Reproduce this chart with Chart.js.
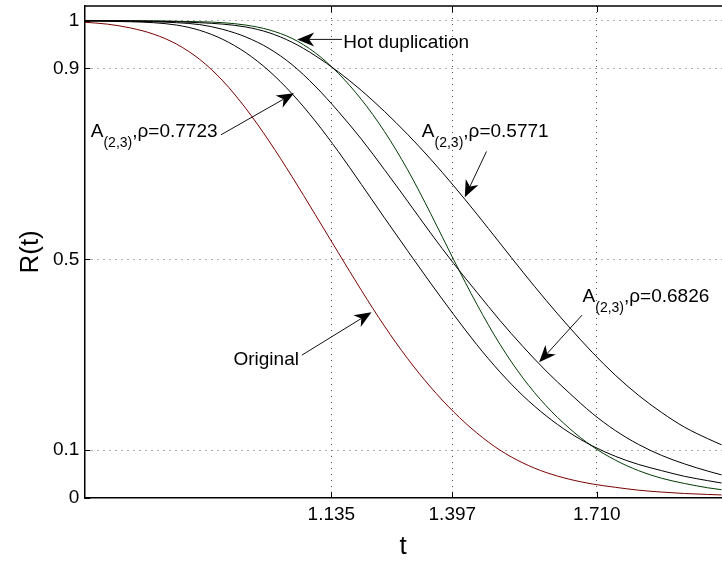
<!DOCTYPE html>
<html>
<head>
<meta charset="utf-8">
<script src="https://cdn.jsdelivr.net/npm/chart.js@4.4.0/dist/chart.umd.min.js"></script>
<style>
  html, body { margin: 0; padding: 0; background: #fff; }
</style>
</head>
<body>
<canvas id="myChart" width="722" height="562"></canvas>
<script>
// time axis samples (t) and reliability values R(t)
var tValues = [0.60, 0.65, 0.70, 0.75, 0.80, 0.85, 0.90, 0.95, 1.00, 1.05, 1.10, 1.15, 1.20, 1.25, 1.30,
               1.35, 1.40, 1.45, 1.50, 1.55, 1.60, 1.65, 1.70, 1.75, 1.80, 1.85, 1.90, 1.95, 1.98];

var original = [0.997, 0.993, 0.985, 0.972, 0.951, 0.919, 0.874, 0.816, 0.748, 0.673, 0.594, 0.514, 0.435, 0.360, 0.292,
                0.232, 0.180, 0.136, 0.100, 0.073, 0.053, 0.039, 0.029, 0.022, 0.016, 0.012, 0.009, 0.007, 0.006];

var hotDuplication = [1.000, 1.000, 1.000, 1.000, 0.999, 0.998, 0.996, 0.991, 0.981, 0.963, 0.933, 0.890, 0.835, 0.768, 0.688,
                      0.596, 0.499, 0.406, 0.322, 0.251, 0.193, 0.146, 0.108, 0.079, 0.057, 0.041, 0.030, 0.021, 0.017];

var rho7723 = [1.000, 0.999, 0.998, 0.996, 0.991, 0.980, 0.961, 0.933, 0.895, 0.847, 0.790, 0.726, 0.657, 0.587, 0.518,
               0.450, 0.384, 0.321, 0.264, 0.214, 0.172, 0.137, 0.109, 0.087, 0.070, 0.057, 0.045, 0.036, 0.031];

var rho6826 = [1.000, 1.000, 0.999, 0.998, 0.996, 0.992, 0.982, 0.966, 0.942, 0.908, 0.863, 0.810, 0.752, 0.688, 0.622,
               0.555, 0.491, 0.431, 0.372, 0.317, 0.266, 0.220, 0.177, 0.141, 0.112, 0.089, 0.071, 0.056, 0.048];

var rho5771 = [1.000, 1.000, 1.000, 0.999, 0.998, 0.996, 0.993, 0.987, 0.975, 0.955, 0.927, 0.893, 0.854, 0.810, 0.762,
               0.710, 0.654, 0.595, 0.534, 0.473, 0.414, 0.358, 0.305, 0.257, 0.215, 0.179, 0.148, 0.124, 0.111];

var xTicks = [1.135, 1.397, 1.710];
var yTicks = [0, 0.1, 0.5, 0.9, 1];
var yTickLabels = ['0', '0.1', '0.5', '0.9', '1'];

var FONT = '"Liberation Sans", Arial, sans-serif';

// text callouts: label anchor (t, R at baseline-left), arrow tail and tip in data units
var callouts = [
  { parts: [['Hot duplication', 0]], at: [1.161, 0.942], tail: [1.158, 0.961], tip: [1.061, 0.961] },
  { parts: [['A', 0], ['(2,3)', 1], [',\u03c1=0.7723', 0]], at: [0.614, 0.756], tail: [0.896, 0.761], tip: [1.054, 0.848] },
  { parts: [['A', 0], ['(2,3)', 1], [',\u03c1=0.5771', 0]], at: [1.331, 0.757], tail: [1.471, 0.726], tip: [1.424, 0.630] },
  { parts: [['A', 0], ['(2,3)', 1], [',\u03c1=0.6826', 0]], at: [1.679, 0.411], tail: [1.678, 0.383], tip: [1.585, 0.284] },
  { parts: [['Original', 0]], at: [0.923, 0.278], tail: [1.071, 0.299], tip: [1.222, 0.389] }
];

function toPoints(values) {
  return tValues.map((t, i) => ({ x: t, y: values[i] }));
}

function line(label, values, color) {
  return {
    label: label,
    data: toPoints(values),
    borderColor: color,
    borderWidth: 1,
    pointRadius: 0,
    fill: false,
    cubicInterpolationMode: 'monotone'
  };
}

function drawArrow(ctx, x1, y1, x2, y2) {
  var a = Math.atan2(y2 - y1, x2 - x1);
  var c = Math.cos(a), s = Math.sin(a);
  var len = 17, half = 7, notch = 12;
  ctx.beginPath();
  ctx.moveTo(x1, y1);
  ctx.lineTo(x2 - c * notch, y2 - s * notch);
  ctx.stroke();
  var bx = x2 - c * len, by = y2 - s * len;
  ctx.beginPath();
  ctx.moveTo(x2, y2);
  ctx.lineTo(bx + s * half, by - c * half);
  ctx.lineTo(x2 - c * notch, y2 - s * notch);
  ctx.lineTo(bx - s * half, by + c * half);
  ctx.closePath();
  ctx.fill();
}

var framePlugin = {
  id: 'frame',
  afterDraw: (chart) => {
    var ctx = chart.ctx, area = chart.chartArea;
    var xs = chart.scales.x, ys = chart.scales.y;
    ctx.save();
    ctx.strokeStyle = '#000';
    ctx.lineWidth = 1.5;
    ctx.beginPath();
    ctx.moveTo(area.left, area.top);
    ctx.lineTo(area.right, area.top);
    ctx.stroke();
    // inward tick marks
    ctx.lineWidth = 1;
    ctx.beginPath();
    xTicks.forEach(v => {
      var px = Math.round(xs.getPixelForValue(v)) + 0.5;
      ctx.moveTo(px, area.bottom); ctx.lineTo(px, area.bottom - 6);
      ctx.moveTo(px, area.top); ctx.lineTo(px, area.top + 6);
    });
    yTicks.forEach(v => {
      var py = Math.round(ys.getPixelForValue(v)) + 0.5;
      ctx.moveTo(area.left, py); ctx.lineTo(area.left + 6, py);
    });
    ctx.stroke();

    // callouts
    ctx.fillStyle = '#000';
    ctx.strokeStyle = '#111';
    ctx.textBaseline = 'alphabetic';
    ctx.textAlign = 'left';
    callouts.forEach(c => {
      var x = xs.getPixelForValue(c.at[0]);
      var y = ys.getPixelForValue(c.at[1]);
      c.parts.forEach(p => {
        ctx.font = (p[1] ? '14px ' : '19px ') + FONT;
        ctx.fillText(p[0], x, y + (p[1] ? 10 : 0));
        x += ctx.measureText(p[0]).width;
      });
      drawArrow(ctx,
        xs.getPixelForValue(c.tail[0]), ys.getPixelForValue(c.tail[1]),
        xs.getPixelForValue(c.tip[0]), ys.getPixelForValue(c.tip[1]));
    });
    ctx.restore();
  }
};

new Chart(document.getElementById('myChart').getContext('2d'), {
  type: 'line',
  data: {
    datasets: [
      line('Original', original, '#7a0000'),
      line('A(2,3), rho=0.7723', rho7723, '#000'),
      line('A(2,3), rho=0.6826', rho6826, '#000'),
      line('A(2,3), rho=0.5771', rho5771, '#000'),
      line('Hot duplication', hotDuplication, '#003c00')
    ]
  },
  options: {
    responsive: false,
    animation: false,
    devicePixelRatio: 1,
    layout: { padding: { top: 6, right: 0, left: 0, bottom: 0 } },
    plugins: { legend: { display: false }, tooltip: { enabled: false } },
    scales: {
      x: {
        type: 'linear',
        min: 0.6,
        max: 1.981,
        afterFit: (s) => { s.height = 64.2; s.paddingLeft = 0; s.paddingRight = 0; },
        afterBuildTicks: (s) => { s.ticks = xTicks.map(v => ({ value: v })); },
        grid: { color: '#555', lineWidth: 1, drawTicks: false },
        border: { display: true, color: '#000', width: 1.5, dash: [1, 5] },
        ticks: {
          padding: 6,
          color: '#000',
          font: { family: FONT, size: 19 },
          maxRotation: 0,
          callback: (v) => v.toFixed(3)
        },
        title: { display: true, text: 't', color: '#000', font: { family: FONT, size: 26 }, padding: { top: 0, bottom: 0 } }
      },
      y: {
        min: 0,
        max: 1.031,
        afterFit: (s) => { s.width = 84.3; s.paddingTop = 0; s.paddingBottom = 0; },
        afterBuildTicks: (s) => { s.ticks = yTicks.map(v => ({ value: v })); },
        grid: { color: '#555', lineWidth: 1, drawTicks: false },
        border: { display: true, color: '#000', width: 1.5, dash: [1, 5] },
        ticks: {
          padding: 5,
          color: '#000',
          font: { family: FONT, size: 19 },
          callback: (v) => yTickLabels[yTicks.indexOf(v)]
        },
        title: { display: true, text: 'R(t)', color: '#000', font: { family: FONT, size: 26 }, padding: { top: 15, bottom: 0 } }
      }
    }
  },
  plugins: [framePlugin]
});
</script>
</body>
</html>
